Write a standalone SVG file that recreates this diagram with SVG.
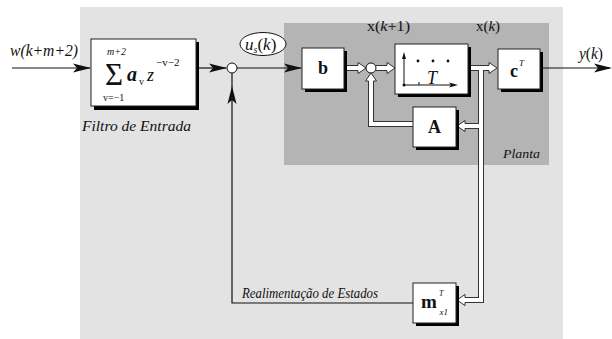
<svg xmlns="http://www.w3.org/2000/svg" width="612" height="339" viewBox="0 0 612 339">
  <style>
    .blk { fill: #ffffff; stroke: #222; stroke-width: 1; }
    .shd { fill: #000; }
    .ln { fill: none; stroke: #111; stroke-width: 1.2; }
    .dl-o { fill: none; stroke: #333; stroke-width: 6; }
    .dl-i { fill: none; stroke: #ffffff; stroke-width: 4; }
    .hh { fill: #ffffff; stroke: #333; stroke-width: 1; stroke-linejoin: miter; }
    .sum { fill: #ffffff; stroke: #111; stroke-width: 1; }
    text { font-family: 'Liberation Serif', 'DejaVu Serif', serif; fill: #111; }
    .it { font-style: italic; }
    .bd { font-weight: bold; }
  </style>
  <defs>
    <!-- filled swept arrowhead, tip at origin, pointing +x -->
    <path id="ah" d="M0,0 L-18,-4.5 L-14,0 L-18,4.5 Z" fill="#111"/>
    <!-- hollow arrowhead for vector (double-line) signals, tip at origin -->
    <path id="hh" class="hh" d="M-8,-2.5 V-5.5 L0,0 L-8,5.5 V2.5"/>
  </defs>

  <!-- background panels -->
  <rect x="80" y="7" width="483" height="332" fill="#e3e3e3"/>
  <rect x="284" y="23" width="265" height="142" fill="#b4b4b4"/>

  <!-- connectors -->
  <g id="connectors">
    <!-- scalar signals -->
    <path class="ln" d="M12,68 H90"/>
    <use href="#ah" transform="translate(91,68)"/>
    <path class="ln" d="M196,68 H226"/>
    <use href="#ah" transform="translate(227,68)"/>
    <path class="ln" d="M237,68 H301"/>
    <use href="#ah" transform="translate(302,68)"/>
    <path class="ln" d="M540,68 H610"/>
    <use href="#ah" transform="translate(612,68)"/>
    <path class="ln" d="M413,303 H232 V73"/>
    <use href="#ah" transform="translate(232,86) rotate(-90)"/>

    <!-- vector signals: outer strokes -->
    <path class="dl-o" d="M344,68 H358"/>
    <path class="dl-o" d="M376,68 H387"/>
    <path class="dl-o" d="M468,68 H489"/>
    <path class="dl-o" d="M481,66 V300 H465"/>
    <path class="dl-o" d="M481,126 H465"/>
    <path class="dl-o" d="M413,124 H371 V81"/>
    <!-- vector signals: inner strokes -->
    <path class="dl-i" d="M344,68 H358"/>
    <path class="dl-i" d="M376,68 H387"/>
    <path class="dl-i" d="M468,68 H489"/>
    <path class="dl-i" d="M481,66 V300 H465"/>
    <path class="dl-i" d="M481,126 H465"/>
    <path class="dl-i" d="M413,124 H371 V81"/>
    <!-- hollow heads -->
    <use href="#hh" transform="translate(366,68)"/>
    <use href="#hh" transform="translate(395,68)"/>
    <use href="#hh" transform="translate(497,68)"/>
    <use href="#hh" transform="translate(457,300) rotate(180)"/>
    <use href="#hh" transform="translate(457,126) rotate(180)"/>
    <use href="#hh" transform="translate(371,73) rotate(-90)"/>
  </g>

  <!-- input label -->
  <text class="it" x="10" y="56" font-size="17" textLength="68" lengthAdjust="spacingAndGlyphs">w(k+m+2)</text>

  <!-- input filter -->
  <g id="filtro">
    <rect class="shd" x="94" y="42" width="105" height="68"/>
    <rect class="blk" x="91" y="39" width="105" height="67"/>
    <text x="105" y="85" font-size="31">Σ</text>
    <text class="it" x="107" y="55" font-size="10">m+2</text>
    <text x="103" y="101" font-size="10">v=−1</text>
    <text class="it bd" x="127" y="81" font-size="20">a</text>
    <text x="139" y="85" font-size="10">v</text>
    <text class="it" x="147" y="81" font-size="18">z</text>
    <text x="156" y="66" font-size="11">−v−2</text>
    <text class="it" x="82" y="131" font-size="14" textLength="109" lengthAdjust="spacingAndGlyphs">Filtro de Entrada</text>
  </g>

  <!-- reference summing junction -->
  <g id="soma1">
    <circle class="sum" cx="232" cy="68" r="5"/>
  </g>

  <!-- control signal tag -->
  <g id="us">
    <ellipse cx="263" cy="44" rx="23" ry="11.5" fill="#ffffff" stroke="#111" stroke-width="1"/>
    <text x="245" y="50" font-size="17"><tspan font-style="italic">u</tspan><tspan font-size="10" font-style="italic" dy="3">s</tspan><tspan dy="-3">(</tspan><tspan font-style="italic">k</tspan>)</text>
  </g>

  <!-- plant -->
  <g id="b">
    <rect class="shd" x="305" y="51" width="42" height="41"/>
    <rect class="blk" x="302" y="48" width="42" height="41"/>
    <text class="bd" x="323" y="74" font-size="18" text-anchor="middle">b</text>
  </g>

  <g id="soma2">
    <circle class="sum" cx="371" cy="68" r="5"/>
  </g>

  <g id="atraso">
    <rect class="shd" x="398" y="47" width="73" height="50"/>
    <rect class="blk" x="395" y="44" width="73" height="50"/>
    <path d="M404,85 V56" stroke="#111" stroke-width="1"/>
    <path d="M404,52 L402,59 L406,59 Z" fill="#111"/>
    <path d="M404,85 H452" stroke="#111" stroke-width="1"/>
    <path d="M458,85 L449,82.5 L451,85 L449,87.5 Z" fill="#111"/>
    <path d="M419,82 V85" stroke="#111" stroke-width="1"/>
    <circle cx="404" cy="85" r="1.5" fill="#111"/>
    <circle cx="418" cy="61" r="1.4" fill="#111"/>
    <circle cx="433" cy="61" r="1.4" fill="#111"/>
    <circle cx="448" cy="61" r="1.4" fill="#111"/>
    <text class="it" x="427" y="84" font-size="18">T</text>
  </g>

  <g id="A">
    <rect class="shd" x="416" y="110" width="43" height="40"/>
    <rect class="blk" x="413" y="107" width="43" height="40"/>
    <text class="bd" x="434.5" y="133" font-size="18" text-anchor="middle">A</text>
  </g>

  <g id="cT">
    <rect class="shd" x="501" y="52" width="42" height="40"/>
    <rect class="blk" x="498" y="49" width="42" height="40"/>
    <text class="bd" x="510" y="77" font-size="18">c</text>
    <text class="it" x="519" y="66" font-size="9">T</text>
  </g>

  <text x="367" y="31" font-size="15" textLength="43" lengthAdjust="spacingAndGlyphs">x(<tspan font-style="italic">k</tspan>+1)</text>
  <text x="476" y="31" font-size="15" textLength="24" lengthAdjust="spacingAndGlyphs">x(<tspan font-style="italic">k</tspan>)</text>
  <text class="it" x="503" y="158" font-size="13" textLength="37" lengthAdjust="spacingAndGlyphs">Planta</text>

  <!-- output label -->
  <text x="579" y="59" font-size="16" textLength="24" lengthAdjust="spacingAndGlyphs"><tspan font-style="italic">y</tspan>(<tspan font-style="italic">k</tspan>)</text>

  <!-- state feedback gain -->
  <g id="m">
    <rect class="shd" x="416" y="286" width="43" height="40"/>
    <rect class="blk" x="413" y="283" width="43" height="40"/>
    <text class="bd" x="421" y="308" font-size="19">m</text>
    <text class="it" x="439" y="296" font-size="8">T</text>
    <text class="it" x="439.5" y="315" font-size="9">x1</text>
  </g>
  <text class="it" x="242" y="298" font-size="14" textLength="136" lengthAdjust="spacingAndGlyphs">Realimentação de Estados</text>
</svg>
